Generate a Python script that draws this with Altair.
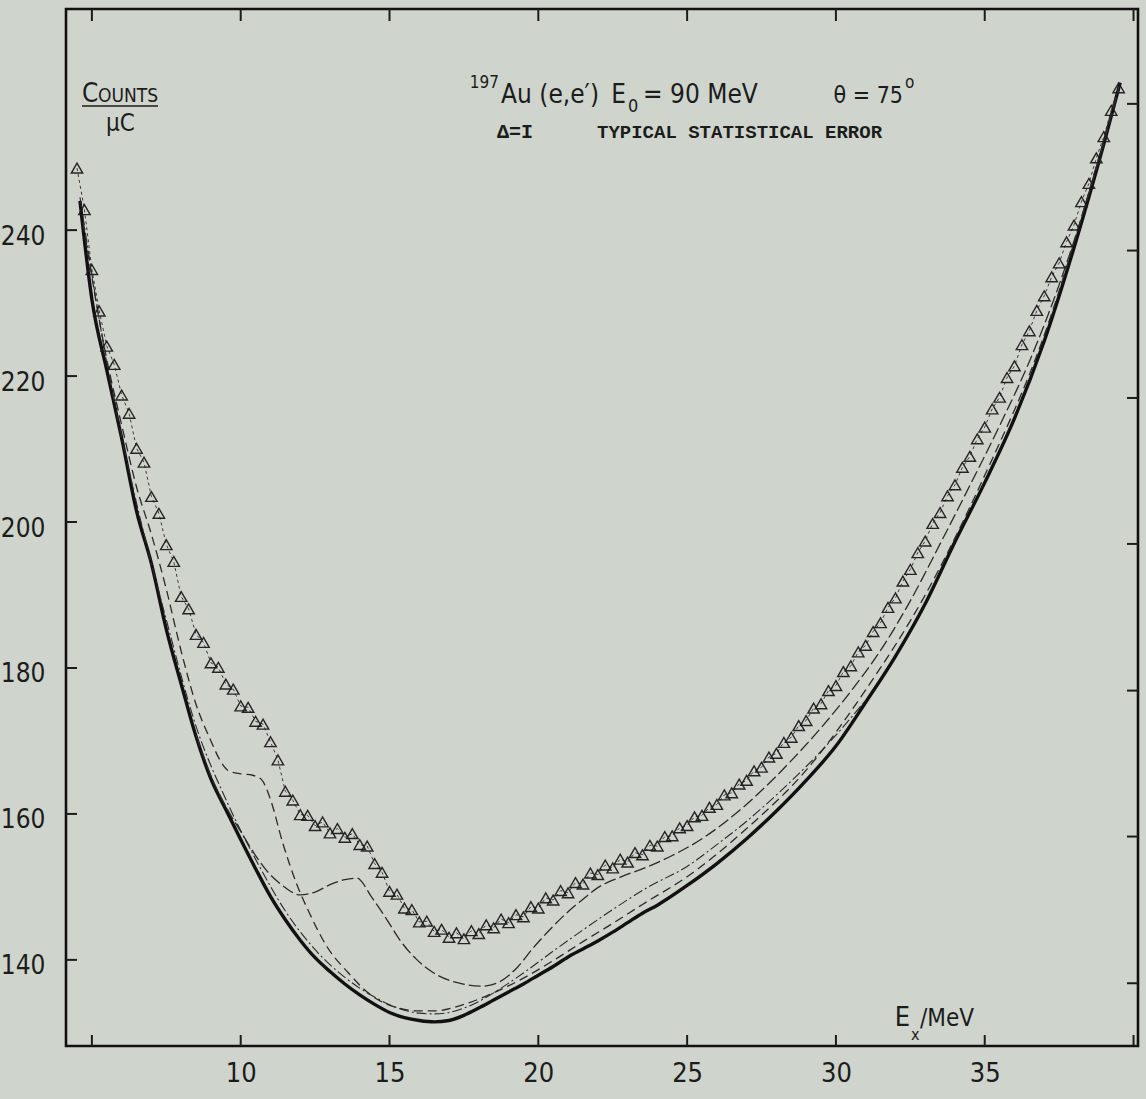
import altair as alt
import pandas as pd

# ---------------- data ----------------
# measured spectrum (triangles), E_x in MeV, counts per microcoulomb
data_x = [round(4.5 + 0.25 * i, 2) for i in range(141)]
data_y = [
    248.5, 242.8, 234.6, 228.9, 224.1, 221.6, 217.4, 214.9, 210.1, 208.2,
    203.5, 201.2, 196.9, 194.6, 189.8, 188.1, 184.6, 183.5, 180.7, 180.1,
    177.8, 177.1, 174.8, 174.6, 172.7, 172.3, 169.9, 167.4, 163.1, 161.9,
    159.9, 159.8, 158.4, 158.9, 157.4, 158.0, 156.8, 157.3, 155.8, 155.6,
    153.2, 152.0, 149.4, 149.0, 147.1, 146.9, 145.2, 145.3, 143.9, 144.2,
    143.1, 143.7, 142.9, 144.0, 143.6, 144.8, 144.4, 145.6, 145.1, 146.2,
    145.9, 147.3, 147.1, 148.5, 148.2, 149.5, 149.2, 150.6, 150.4, 151.9,
    151.7, 153.0, 152.6, 153.8, 153.4, 154.7, 154.4, 155.7, 155.6, 156.9,
    157.0, 158.1, 158.4, 159.6, 159.8, 160.9, 161.3, 162.6, 162.9, 164.1,
    164.6, 165.9, 166.4, 167.8, 168.3, 169.8, 170.5, 172.1, 172.8, 174.5,
    175.1, 176.9, 177.6, 179.5, 180.3, 182.2, 183.1, 185.0, 186.2, 188.3,
    189.6, 191.9, 193.5, 195.8, 197.4, 199.8, 201.3, 203.6, 205.1, 207.5,
    209.0, 211.4, 213.0, 215.5, 217.1, 219.8, 221.4, 224.3, 226.2, 229.0,
    231.0, 233.6, 235.5, 238.4, 240.7, 243.9, 246.4, 249.9, 252.8, 256.4,
    259.5,
]

# thick solid curve
thick_x = [4.6, 5.0, 5.5, 6.0, 6.5, 7.0, 7.5, 8.0, 8.5, 9.0, 9.5, 10.0, 10.5, 11.0,
           11.5, 12.0, 12.5, 13.0, 13.5, 14.0, 14.5, 15.0, 15.5, 16.0, 16.5, 17.0,
           17.5, 18.0, 18.5, 19.0, 19.5, 20.0, 20.5, 21.0, 21.5, 22.0, 22.5, 23.0,
           23.5, 24.0, 25.0, 26.0, 27.0, 28.0, 29.0, 30.0, 31.0, 32.0, 33.0, 34.0,
           35.0, 36.0, 37.0, 38.0, 39.0, 39.55]
thick_y = [244.0, 230.5, 220.8, 211.5, 201.5, 194.3, 185.3, 177.8, 170.6, 164.8,
           160.6, 156.5, 152.5, 148.7, 145.5, 142.7, 140.3, 138.4, 136.7, 135.2,
           133.9, 132.8, 132.1, 131.7, 131.5, 131.7, 132.4, 133.4, 134.5, 135.6,
           136.7, 137.9, 139.1, 140.4, 141.5, 142.6, 143.8, 145.1, 146.4, 147.5,
           150.2, 153.2, 156.6, 160.4, 164.6, 169.3, 175.3, 181.6, 188.8, 197.3,
           205.4, 214.2, 224.8, 237.6, 251.8, 260.2]

# dashed curve with the shoulder near 10 MeV
b1_x = [4.7, 5.5, 6.0, 6.5, 7.0, 7.5, 8.0, 8.5, 9.0, 9.3, 9.6, 10.0, 10.4, 10.7,
        11.0, 11.4, 11.9, 12.3, 12.9, 13.6, 14.4, 15.3, 16.0, 16.5, 17.5, 18.5,
        19.5, 20.5, 21.5, 22.5, 23.5, 25.0, 27.0, 29.0, 31.0, 33.0, 35.0, 37.0,
        39.0, 39.55]
b1_y = [241.0, 222.3, 213.3, 204.8, 198.3, 190.8, 182.3, 175.0, 170.0, 167.4,
        165.9, 165.5, 165.3, 164.7, 162.0, 156.2, 150.2, 146.5, 141.8, 138.3,
        135.1, 133.4, 133.0, 133.0, 133.9, 135.5, 137.5, 139.9, 142.5, 145.0,
        147.6, 151.4, 158.0, 166.0, 177.0, 190.0, 206.4, 225.6, 252.3, 260.2]

# dashed curve with the bump near 14 MeV
b2_x = [8.5, 9.0, 9.6, 10.0, 10.5, 10.9, 11.4, 12.0, 12.5, 13.0, 13.5, 13.9, 14.4,
        14.9, 15.35, 15.9, 16.45, 17.35, 18.1, 18.7, 19.3, 19.8, 20.4, 21.0, 21.5,
        22.0, 22.8, 23.7, 24.5, 25.5, 26.5, 27.5, 28.5, 29.5, 30.5, 31.5, 32.5,
        33.5, 34.5, 35.5, 36.5, 37.5, 38.5, 39.5]
b2_y = [170.8, 165.2, 160.3, 157.6, 154.3, 152.1, 150.2, 148.9, 149.3, 150.3,
        151.0, 151.2, 148.6, 145.6, 142.7, 140.1, 138.3, 136.8, 136.4, 137.0,
        139.0, 141.5, 144.2, 146.6, 148.3, 149.9, 151.4, 152.8, 154.3, 156.6,
        159.6, 163.2, 167.3, 171.8, 176.8, 182.4, 189.2, 197.0, 205.0, 213.2,
        222.0, 232.5, 245.0, 259.3]

# dash-dot curve close to the thick one
c_x = [4.6, 5.5, 6.5, 7.5, 8.5, 9.5, 10.5, 11.5, 12.5, 13.5, 14.5, 15.5, 16.0,
       16.5, 17.0, 17.5, 18.0, 18.7, 19.5, 20.5, 21.5, 22.5, 23.7, 25.0, 26.0,
       27.0, 28.0, 29.0, 30.0, 31.0]
c_y = [244.5, 221.8, 202.6, 186.6, 172.0, 162.0, 153.8, 146.7, 141.4, 137.6,
       134.9, 133.1, 132.7, 132.6, 132.8, 133.4, 134.3, 136.0, 138.2, 141.2,
       144.1, 146.9, 150.0, 152.8, 155.8, 159.0, 162.6, 166.5, 170.8, 175.6]

x_ticks = [5, 10, 15, 20, 25, 30, 35, 40]
x_labels = [10, 15, 20, 25, 30, 35]
y_ticks_left = [140, 160, 180, 200, 220, 240]
y_ticks_right = [136.8, 156.9, 176.9, 197.0, 217.0, 237.2, 257.3]

# ---------------- layout ----------------
W, H = 1072, 1037
PADL, PADT = 66, 9
NARROW = "Liberation Sans Narrow, DejaVu Sans Condensed, Roboto, Liberation Sans, sans-serif"
MONO = "Liberation Mono, DejaVu Sans Mono, monospace"
INK = "#1c1c1c"

xs = alt.Scale(domain=[4.13, 40.15], nice=False, zero=False)
ys = alt.Scale(domain=[128.2, 270.3], nice=False, zero=False)

AX = alt.Axis(values=x_labels, ticks=False, domain=False, grid=False, title=None,
              labelFont=NARROW, labelFontSize=27, labelColor=INK, labelPadding=14)
AY = alt.Axis(values=y_ticks_left, ticks=False, domain=False, grid=False, title=None,
              labelFont=NARROW, labelFontSize=26, labelColor=INK, labelPadding=21,
              labelOffset=6)


def X(f):
    return alt.X(f, type="quantitative", scale=xs, axis=AX)


def Y(f):
    return alt.Y(f, type="quantitative", scale=ys, axis=AY)


df_data = pd.DataFrame({"x": data_x, "y": data_y})

points = alt.Chart(df_data).mark_point(
    shape="triangle-up", filled=False, size=130, stroke=INK, strokeWidth=1.4, opacity=0.95
).encode(x=X("x"), y=Y("y"))

fit = alt.Chart(df_data).mark_line(
    stroke="#3a3a3a", strokeWidth=1.0, strokeDash=[3, 3]
).encode(x=X("x"), y=Y("y"))


def curve(xv, yv, **kw):
    return alt.Chart(pd.DataFrame({"x": xv, "y": yv})).mark_line(
        interpolate="monotone", **kw
    ).encode(x=X("x"), y=Y("y"))


thick = curve(thick_x, thick_y, stroke="#111111", strokeWidth=3.4)
b1 = curve(b1_x, b1_y, stroke="#2a2a2a", strokeWidth=1.3, strokeDash=[9, 5])
b2 = curve(b2_x, b2_y, stroke="#2a2a2a", strokeWidth=1.3, strokeDash=[12, 4])
cc = curve(c_x, c_y, stroke="#2a2a2a", strokeWidth=1.1, strokeDash=[10, 3, 2, 3])

# inward tick marks on all four sides
tl = alt.Chart(pd.DataFrame({"v": y_ticks_left})).mark_rule(color=INK, strokeWidth=2).encode(
    y=Y("v"), x=alt.value(0), x2=alt.value(11))
tr = alt.Chart(pd.DataFrame({"v": y_ticks_right})).mark_rule(color=INK, strokeWidth=2).encode(
    y=Y("v"), x=alt.value(W - 11), x2=alt.value(W))
tb = alt.Chart(pd.DataFrame({"v": x_ticks})).mark_rule(color=INK, strokeWidth=2).encode(
    x=X("v"), y=alt.value(H - 11), y2=alt.value(H))
tt = alt.Chart(pd.DataFrame({"v": x_ticks})).mark_rule(color=INK, strokeWidth=2).encode(
    x=X("v"), y=alt.value(0), y2=alt.value(12))


def label(text, x, y, size, font=NARROW, weight="normal", align="left"):
    return alt.Chart(pd.DataFrame({"t": [text]})).mark_text(
        align=align, baseline="alphabetic", font=font, fontSize=size,
        fontWeight=weight, color=INK
    ).encode(text="t:N", x=alt.value(x - PADL), y=alt.value(y - PADT))


texts = [
    label("197", 499, 88, 17, align="right"),
    label("Au (e,e\u2032)", 501, 103, 26),
    label("E", 626, 103, 26, align="right"),
    label("0", 628, 112, 18),
    label("= 90 MeV", 643, 103, 26),
    label("\u03b8 = 75", 903, 103, 23, align="right"),
    label("o", 905, 88, 17),
    label("\u0394=I", 497, 138, 20, MONO, "bold"),
    label("TYPICAL STATISTICAL ERROR", 597, 138, 19, MONO, "bold"),
    label("C", 82, 102, 26),
    label("OUNTS", 98, 102, 19),
    label("\u03bcC", 106, 131, 24),
    label("E", 910, 1026, 27, align="right"),
    label("x", 911, 1040, 16),
    label("/MeV", 920, 1026, 24),
]

underline = alt.Chart(pd.DataFrame({"t": [0]})).mark_rule(color=INK, strokeWidth=1.6).encode(
    x=alt.value(82 - PADL), x2=alt.value(158 - PADL), y=alt.value(106 - PADT))

chart = alt.layer(
    thick, b1, b2, cc, fit, points, tl, tr, tb, tt, underline, *texts
).properties(
    width=W, height=H,
    autosize=alt.AutoSizeParams(type="none"),
    padding={"left": PADL, "top": PADT, "right": 8, "bottom": 53},
    background="#cfd4cc",
).configure_view(stroke="#111111", strokeWidth=2.6)

chart.save("out.html", embed_options={"renderer": "svg", "actions": False})
